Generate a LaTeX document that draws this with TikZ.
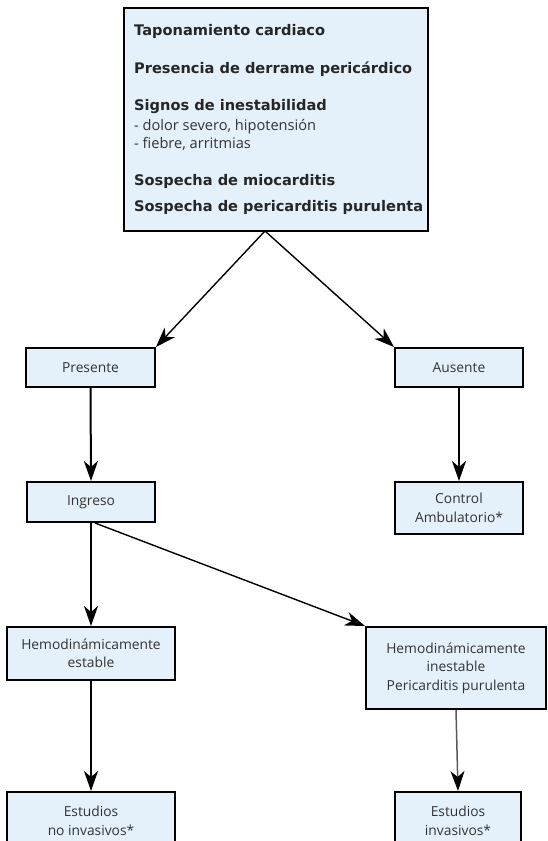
\documentclass[tikz,border=0pt]{standalone}
\usepackage{fontspec}
\setmainfont{Open Sans}
\newfontfamily\hdfont{DejaVu Sans}
\usetikzlibrary{arrows.meta}
\definecolor{boxfill}{HTML}{E4F0FA}
\definecolor{txt}{HTML}{333333}
\begin{document}
\begin{tikzpicture}[x=1pt,y=-1pt,
 box/.style={draw=black, line width=2pt, fill=boxfill, inner sep=0pt, align=center, text=txt, font=\fontsize{13.8}{18.5}\selectfont},
 arr/.style={line width=2pt, -{Stealth[length=20pt,width=14pt,inset=6pt]}},
 thinarr/.style={line width=1.4pt, -{Stealth[length=20pt,width=14pt,inset=6pt]}},
 grayarr/.style={draw=black!65, line width=1.5pt, -{Stealth[length=20pt,width=14pt,inset=6pt,color=black]}},
 hd/.style={anchor=mid west, inner sep=0pt, text=black!85, font=\hdfont\bfseries\fontsize{14.6}{16}\selectfont},
 sub/.style={anchor=mid west, inner sep=0pt, text=txt, font=\fontsize{14.6}{16}\selectfont}]
\useasboundingbox (0,0) rectangle (548,841);
\fill[white] (0,0) rectangle (548,841);
\node[box, minimum width=304pt, minimum height=223pt] (top) at (276,119.5) {};
\node[hd] (t1) at (134,33) {Taponamiento cardiaco};
\node[hd] (t2) at (134,71) {Presencia de derrame pericárdico};
\node[hd] (t3) at (134,108) {Signos de inestabilidad};
\node[sub] (t4) at (134,128) {- dolor severo, hipotensión};
\node[sub] (t5) at (134,146) {- fiebre, arritmias};
\node[hd] (t6) at (134,183) {Sospecha de miocarditis};
\node[hd] (t7) at (134,209) {Sospecha de pericarditis purulenta};

\node[box, minimum width=129pt, minimum height=39pt] (pres) at (90.5,367.5) {Presente};
\node[box, minimum width=128pt, minimum height=39pt] (aus) at (459,367.5) {Ausente};
\node[box, minimum width=128pt, minimum height=40pt] (ing) at (91,502) {Ingreso};
\node[box, minimum width=128pt, minimum height=52pt] (ctrl) at (459,508) {Control\\Ambulatorio*};
\node[box, minimum width=168pt, minimum height=53pt] (hest) at (91,653.5) {Hemodinámicamente\\estable};
\node[box, minimum width=180pt, minimum height=82pt] (hinest) at (456,668) {Hemodinámicamente\\inestable\\Pericarditis purulenta};
\node[box, minimum width=168pt, minimum height=58pt] (estn) at (91,821) {Estudios\\no invasivos*};
\node[box, minimum width=126pt, minimum height=58pt] (esti) at (458,821) {Estudios\\invasivos*};

\coordinate (apex) at (265,231);
\draw[thinarr] (apex) -- (pres.north east);
\draw[thinarr] (apex) -- (aus.north west);
\draw[arr] (pres.south) -- (ing.north);
\draw[arr] (aus.south) -- (ctrl.north);
\draw[arr] (ing.south) -- (hest.north);
\draw[thinarr] ([xshift=4pt]ing.south) -- (hinest.north west);
\draw[arr] (hest.south) -- (estn.north);
\draw[grayarr] (hinest.south) -- (esti.north);
\end{tikzpicture}
\end{document}
